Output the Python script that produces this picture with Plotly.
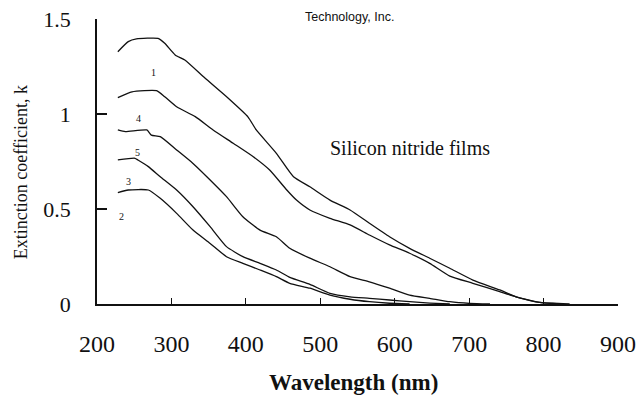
import plotly.graph_objects as go

# ---- data (wavelength in nm, extinction coefficient k) ----
wl_1 = [228, 242, 253, 282, 291, 305, 318, 345, 376, 403, 414, 441, 464, 486, 513, 540, 566, 593, 620, 647, 674, 705, 741, 763, 795, 812, 835]
k_1 = [1.328, 1.381, 1.395, 1.398, 1.372, 1.311, 1.284, 1.189, 1.084, 0.984, 0.916, 0.793, 0.670, 0.617, 0.547, 0.495, 0.425, 0.354, 0.293, 0.241, 0.188, 0.126, 0.074, 0.038, 0.009, 0.004, 0.0]

wl_4 = [228, 247, 280, 291, 307, 332, 356, 383, 410, 432, 455, 468, 486, 513, 540, 566, 593, 620, 647, 674, 705, 741, 763, 795, 822]
k_4 = [1.086, 1.117, 1.123, 1.091, 1.038, 0.986, 0.916, 0.846, 0.775, 0.705, 0.600, 0.547, 0.495, 0.451, 0.416, 0.363, 0.311, 0.267, 0.214, 0.147, 0.109, 0.065, 0.038, 0.008, 0.0]

wl_5 = [228, 238, 267, 273, 285, 307, 329, 352, 374, 396, 419, 441, 459, 486, 513, 540, 566, 593, 620, 647, 674, 701, 728]
k_5 = [0.916, 0.907, 0.916, 0.889, 0.881, 0.811, 0.740, 0.653, 0.565, 0.459, 0.389, 0.354, 0.293, 0.241, 0.196, 0.144, 0.117, 0.083, 0.047, 0.030, 0.012, 0.003, 0.0]

wl_3 = [228, 251, 255, 269, 285, 307, 329, 352, 374, 396, 419, 441, 459, 486, 513, 540, 566, 593, 620, 647, 674]
k_3 = [0.758, 0.767, 0.758, 0.723, 0.670, 0.600, 0.512, 0.407, 0.302, 0.249, 0.214, 0.179, 0.140, 0.103, 0.056, 0.038, 0.030, 0.021, 0.012, 0.005, 0.0]

wl_2 = [228, 242, 269, 285, 307, 329, 352, 374, 396, 419, 441, 459, 486, 513, 540, 566, 593, 620]
k_2 = [0.586, 0.600, 0.600, 0.556, 0.477, 0.389, 0.319, 0.249, 0.214, 0.179, 0.144, 0.109, 0.083, 0.047, 0.025, 0.012, 0.004, 0.0]

curve_names = ["1", "4", "5", "3", "2"]
label_wl = [275.6, 255.4, 254.6, 242.0, 233.1]
label_k = [1.217, 0.977, 0.796, 0.644, 0.459]

x_ticks = [200, 300, 400, 500, 600, 700, 800, 900]
y_ticks = [0, 0.5, 1, 1.5]
y_tick_text = ["0", "0.5", "1", "1.5"]

series = [(wl_1, k_1), (wl_4, k_4), (wl_5, k_5), (wl_3, k_3), (wl_2, k_2)]

fig = go.Figure()
for name, (xs, ys) in zip(curve_names, series):
    fig.add_trace(go.Scatter(x=xs, y=ys, mode="lines", name=name,
                             line=dict(color="#111111", width=1.3, shape="spline", smoothing=0.5),
                             showlegend=False))

serif = "Liberation Serif, Times New Roman, serif"

annotations = []
for t, xv, yv in zip(curve_names, label_wl, label_k):
    annotations.append(dict(x=xv, y=yv, xref="x", yref="y", text=t, showarrow=False,
                            xanchor="center", yanchor="middle",
                            font=dict(family=serif, size=10, color="#111111")))
annotations.append(dict(x=621, y=0.821, xref="x", yref="y", text="Silicon nitride films",
                        showarrow=False, xanchor="center", yanchor="middle",
                        font=dict(family=serif, size=20, color="#111111")))
annotations.append(dict(x=0.484, y=1.007, xref="paper", yref="paper", text="Technology, Inc.",
                        showarrow=False, xanchor="center", yanchor="middle",
                        font=dict(family="Liberation Sans, Arial, sans-serif", size=12.5, color="#111111")))
annotations.append(dict(x=0.493, y=-0.277, xref="paper", yref="paper", text="<b>Wavelength (nm)</b>",
                        showarrow=False, xanchor="center", yanchor="middle",
                        font=dict(family=serif, size=23, color="#111111")))
annotations.append(dict(x=-0.1457, y=0.463, xref="paper", yref="paper", text="Extinction coefficient, k",
                        textangle=-90, showarrow=False, xanchor="center", yanchor="middle",
                        font=dict(family=serif, size=18, color="#111111")))

fig.update_layout(
    width=637, height=399,
    margin=dict(l=97, r=19, t=19, b=95, autoexpand=False),
    paper_bgcolor="white", plot_bgcolor="white",
    annotations=annotations,
    xaxis=dict(range=[200, 900], tickvals=x_ticks, ticks="inside", ticklen=6, tickwidth=1.2,
               tickcolor="#111111", showline=True, linecolor="#111111", linewidth=1.5,
               showgrid=False, zeroline=False, ticklabelstandoff=17,
               tickfont=dict(family=serif, size=24, color="#111111")),
    yaxis=dict(range=[0, 1.5], tickvals=y_ticks, ticktext=y_tick_text, ticks="inside", ticklen=10,
               tickwidth=1.5, tickcolor="#111111", showline=True, linecolor="#111111", linewidth=1.5,
               showgrid=False, zeroline=False, ticklabelstandoff=20,
               tickfont=dict(family=serif, size=22, color="#111111")),
)

fig.write_html("out.html")
